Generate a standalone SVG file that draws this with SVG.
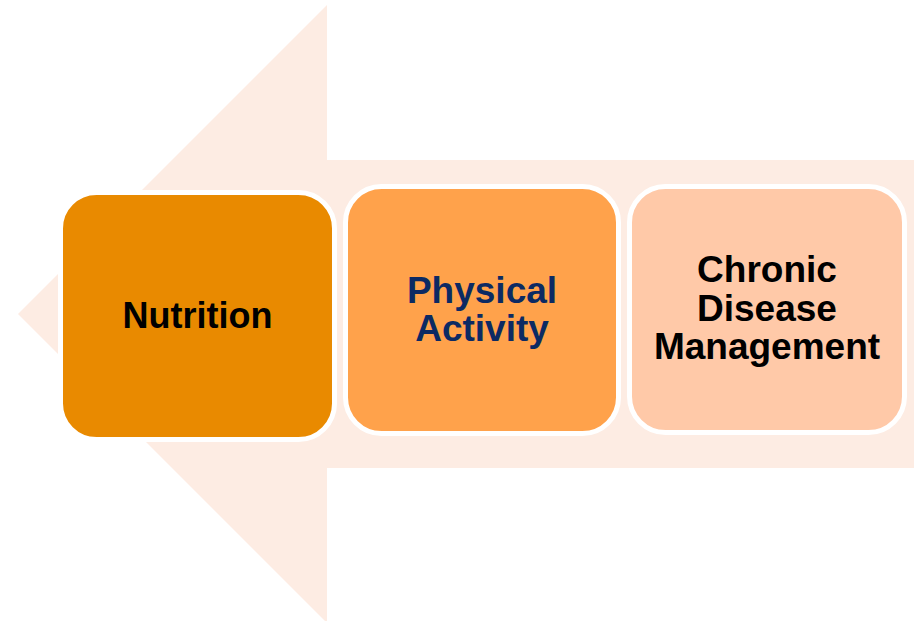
<svg xmlns="http://www.w3.org/2000/svg" width="914" height="621" viewBox="0 0 914 621">
<style>
.box{stroke:#FFFFFF;stroke-width:5}
.lbl{font-family:"Liberation Sans",Arial,sans-serif;font-weight:bold;font-size:37px;text-anchor:middle}
</style>
<rect width="914" height="621" fill="#FFFFFF"/>
<g id="connectors">
<polygon id="big-arrow" points="18,314 327,5 327,160 914,160 914,468 327,468 327,623" fill="#FDECE3"/>
</g>
<g id="node-nutrition">
<rect class="box" x="60.5" y="192.5" width="274" height="247" rx="36" fill="#E98A00"/>
<text class="lbl" x="197.5" y="328" fill="#000000" style="font-size:36px">Nutrition</text>
</g>
<g id="node-physical">
<rect class="box" x="345.5" y="186.5" width="273" height="247" rx="36" fill="#FFA24B"/>
<text class="lbl" x="482" y="303.3" fill="#0C2A63">Physical</text>
<text class="lbl" x="482" y="340.7" fill="#0C2A63">Activity</text>
</g>
<g id="node-chronic">
<rect class="box" x="629.5" y="186.5" width="275" height="246" rx="36" fill="#FFC9A8"/>
<text class="lbl" x="767" y="281.7" fill="#000000">Chronic</text>
<text class="lbl" x="767" y="320.7" fill="#000000">Disease</text>
<text class="lbl" x="767" y="359.3" fill="#000000">Management</text>
</g>
</svg>
